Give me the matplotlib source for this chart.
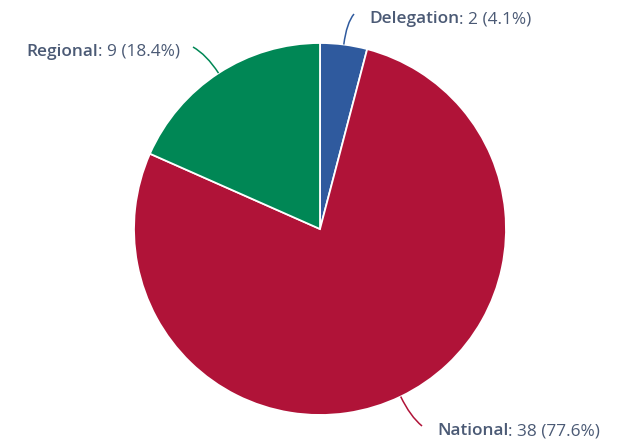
import matplotlib.pyplot as plt
from matplotlib.path import Path
from matplotlib.patches import PathPatch
import numpy as np

categories = ["Delegation", "National", "Regional"]
counts = [2, 38, 9]
colors = ["#2f5a9e", "#b01338", "#008755"]

plt.rcParams['font.family'] = ['Open Sans', 'DejaVu Sans']

fig = plt.figure(figsize=(6.18, 4.41), dpi=100)
ax = fig.add_axes([0, 0, 1, 1])

cx, cy, r = 320, 212, 186
wedges, _ = ax.pie(counts, colors=colors, startangle=90, counterclock=False,
                   center=(cx, cy), radius=r,
                   wedgeprops=dict(edgecolor="white", linewidth=1.3))
ax.set_xlim(0, 618)
ax.set_ylim(0, 441)
ax.axis("off")

total = sum(counts)
# label end points (x, y) and alignment for each slice
label_pos = [(354, 427, "left"), (422, 15, "left"), (193, 394, "right")]
txt_color = "#4b5a75"
fs = 12.4
renderer = fig.canvas.get_renderer()

for w, n, c, col, (ex, ey, ha) in zip(wedges, categories, counts, colors, label_pos):
    mid = np.deg2rad((w.theta1 + w.theta2) / 2)
    sx, sy = cx + r * np.cos(mid), cy + r * np.sin(mid)
    kx, ky = sx + 22 * np.cos(mid), sy + 22 * np.sin(mid)
    p = Path([(sx, sy), (kx, ky), (ex, ey)], [Path.MOVETO, Path.CURVE3, Path.CURVE3])
    ax.add_patch(PathPatch(p, fill=False, edgecolor=col, linewidth=1.1))

    rest = ": %d (%.1f%%)" % (c, c / total * 100)
    ty = ey - 5
    if ha == "left":
        t1 = ax.text(ex + 15, ty, n, fontsize=fs, fontweight="semibold",
                     color=txt_color, ha="left", va="center")
        bb = t1.get_window_extent(renderer)
        ax.text(bb.x1, ty, rest, fontsize=fs, color=txt_color,
                ha="left", va="center")
    else:
        t2 = ax.text(ex - 13, ty, rest, fontsize=fs, color=txt_color,
                     ha="right", va="center")
        bb = t2.get_window_extent(renderer)
        ax.text(bb.x0, ty, n, fontsize=fs, fontweight="semibold",
                color=txt_color, ha="right", va="center")

fig.savefig("out.png", dpi=100)
